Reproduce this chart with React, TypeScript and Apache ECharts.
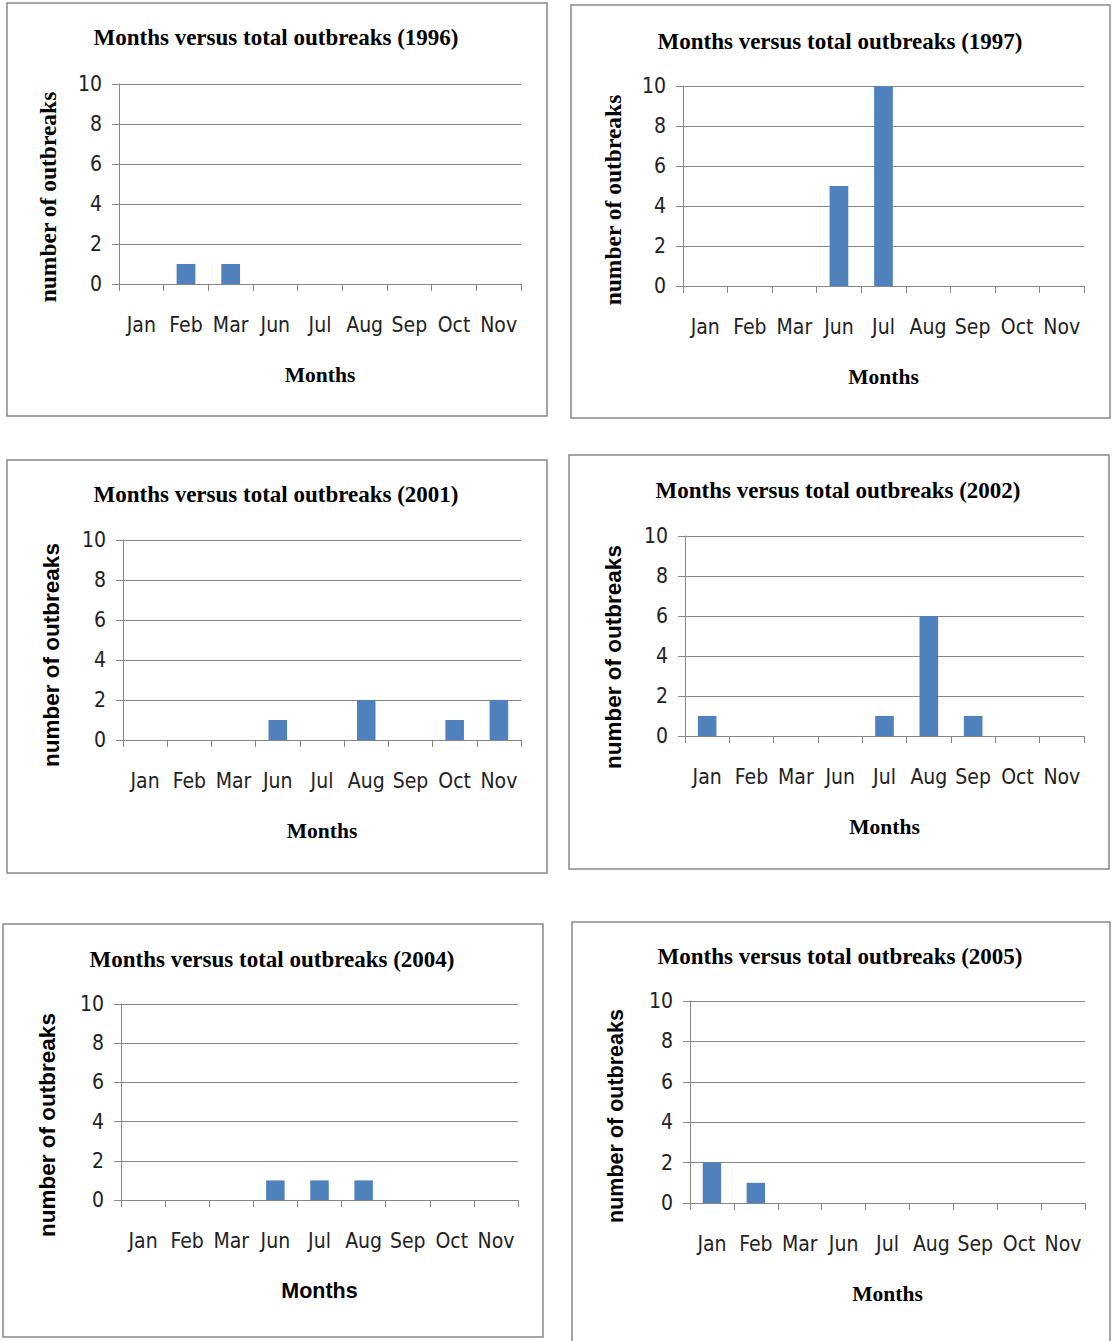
import React, { useEffect, useRef } from 'react';
import * as echarts from 'echarts';

const months = ['Jan', 'Feb', 'Mar', 'Jun', 'Jul', 'Aug', 'Sep', 'Oct', 'Nov'];
const years = ['1996', '1997', '2001', '2002', '2004', '2005'];
const outbreaks1996 = [0, 1, 1, 0, 0, 0, 0, 0, 0];
const outbreaks1997 = [0, 0, 0, 5, 10, 0, 0, 0, 0];
const outbreaks2001 = [0, 0, 0, 1, 0, 2, 0, 1, 2];
const outbreaks2002 = [1, 0, 0, 0, 1, 6, 1, 0, 0];
const outbreaks2004 = [0, 0, 0, 1, 1, 1, 0, 0, 0];
const outbreaks2005 = [2, 1, 0, 0, 0, 0, 0, 0, 0];
const seriesData = [outbreaks1996, outbreaks1997, outbreaks2001, outbreaks2002, outbreaks2004, outbreaks2005];
const yMin = 0;
const yMax = 10;
const yStep = 2;
const titlePrefix = 'Months versus total outbreaks';
const xTitle = 'Months';
const yTitle = 'number of outbreaks';

const SERIF = "'Liberation Serif', 'DejaVu Serif', serif";
const SANS = "'Liberation Sans', 'DejaVu Sans', Arial, sans-serif";
const NARROW = "'Liberation Sans Narrow', 'DejaVu Sans Condensed', 'Open Sans', sans-serif";

// layout: box [x, y, w, h], grid [left, top, width, height], title center, y-name center/size/family, x-name family
const layout = [
  { box: [7, 3, 540, 413], grid: [119, 84, 402, 200], title: [276, 37], yName: [48, 197, 23.5, SERIF], xFont: SERIF },
  { box: [571, 5, 539, 413], grid: [683, 86, 401, 200], title: [840, 41], yName: [613, 200, 23.5, SERIF], xFont: SERIF },
  { box: [7, 460, 540, 413], grid: [123, 540, 398, 200], title: [276, 494], yName: [51, 655, 22.5, SANS], xFont: SERIF },
  { box: [569, 455, 540, 414], grid: [685, 536, 399, 200], title: [838, 490], yName: [613, 657, 22.5, SANS], xFont: SERIF },
  { box: [3, 924, 540, 413], grid: [121, 1004, 397, 196], title: [272, 959], yName: [47, 1125, 22.5, SANS], xFont: SANS },
  { box: [572, 922, 538, 430], grid: [690, 1001, 395, 202], title: [840, 956], yName: [616, 1116, 21.5, SANS], xFont: SERIF },
];

const AXIS_COLOR = '#868686';

export default function App() {
  const ref = useRef<HTMLDivElement>(null);

  useEffect(() => {
    if (!ref.current) return;
    const chart = echarts.init(ref.current, undefined, { renderer: 'svg' });

    const grids = layout.map((p) => ({
      left: p.grid[0],
      top: p.grid[1],
      width: p.grid[2],
      height: p.grid[3],
      containLabel: false,
    }));

    const xAxes = layout.map((p, i) => ({
      type: 'category',
      gridIndex: i,
      data: months,
      boundaryGap: true,
      axisLine: { show: true, lineStyle: { color: AXIS_COLOR, width: 1 } },
      axisTick: { show: true, length: 7, lineStyle: { color: AXIS_COLOR } },
      axisLabel: { interval: 0, margin: 30, fontSize: 21, color: '#222', fontFamily: NARROW },
      splitLine: { show: false },
      name: xTitle,
      nameLocation: 'middle',
      nameGap: 80,
      nameTextStyle: { fontFamily: p.xFont, fontWeight: 'bold', fontSize: 21.5, color: '#000' },
    }));

    const yAxes = layout.map((p, i) => ({
      type: 'value',
      gridIndex: i,
      min: yMin,
      max: yMax,
      interval: yStep,
      axisLine: { show: true, lineStyle: { color: AXIS_COLOR, width: 1 } },
      axisTick: { show: true, length: 7, lineStyle: { color: AXIS_COLOR } },
      axisLabel: { margin: 17, fontSize: 21, color: '#222', fontFamily: NARROW },
      splitLine: { show: true, lineStyle: { color: AXIS_COLOR, width: 1 } },
    }));

    const series = seriesData.map((d, i) => ({
      type: 'bar',
      name: years[i],
      xAxisIndex: i,
      yAxisIndex: i,
      data: d,
      barWidth: '42%',
      itemStyle: { color: '#4f81bd' },
    }));

    const graphic: any[] = [];
    layout.forEach((p, i) => {
      graphic.push({
        type: 'rect',
        shape: { x: p.box[0], y: p.box[1], width: p.box[2], height: p.box[3] },
        style: { fill: 'none', stroke: '#888888', lineWidth: 1.5 },
        z: 0,
      });
      graphic.push({
        type: 'text',
        x: p.title[0],
        y: p.title[1],
        style: {
          text: `${titlePrefix} (${years[i]})`,
          font: `bold 23px ${SERIF}`,
          fill: '#000',
          textAlign: 'center',
          textVerticalAlign: 'middle',
          align: 'center',
          verticalAlign: 'middle',
        },
      });
      graphic.push({
        type: 'text',
        x: p.yName[0] as number,
        y: p.yName[1] as number,
        rotation: Math.PI / 2,
        style: {
          text: yTitle,
          font: `bold ${p.yName[2]}px ${p.yName[3]}`,
          fill: '#000',
          textAlign: 'center',
          textVerticalAlign: 'middle',
          align: 'center',
          verticalAlign: 'middle',
        },
      });
    });

    chart.setOption({
      animation: false,
      backgroundColor: '#ffffff',
      grid: grids,
      xAxis: xAxes,
      yAxis: yAxes,
      series,
      graphic,
    } as any);

    return () => chart.dispose();
  }, []);

  return (
    <div
      ref={ref}
      style={{ position: 'absolute', left: 0, top: 0, width: 1112, height: 1341 }}
    />
  );
}
